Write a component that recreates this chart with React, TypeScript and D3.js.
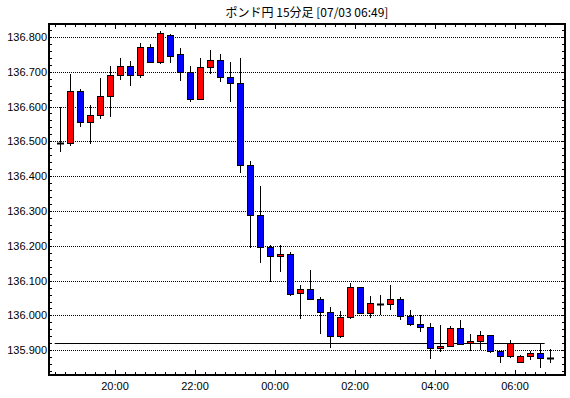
import React from "react";
import * as d3 from "d3";

const title = "ポンド円 15分足 [07/03 06:49]";
const startTime = new Date(2019, 6, 2, 18, 30);
const intervalMinutes = 15;

const openValues = [
  136.495, 136.495, 136.645, 136.555, 136.575, 136.630, 136.690, 136.717, 136.690, 136.771,
  136.727, 136.806, 136.750, 136.700, 136.622, 136.714, 136.734, 136.685, 136.668, 136.432,
  136.288, 136.197, 136.170, 136.176, 136.064, 136.077, 136.047, 136.009, 135.940, 135.995,
  136.081, 136.006, 136.034, 136.032, 136.047, 135.998, 135.975, 135.966, 135.906, 135.911,
  135.963, 135.920, 135.926, 135.943, 135.897, 135.883, 135.866, 135.883, 135.891, 135.877,
];
const highValues = [
  136.600, 136.692, 136.650, 136.605, 136.682, 136.717, 136.738, 136.732, 136.783, 136.780,
  136.818, 136.809, 136.768, 136.717, 136.740, 136.763, 136.752, 136.728, 136.740, 136.443,
  136.373, 136.201, 136.203, 136.182, 136.087, 136.130, 136.053, 136.024, 136.014, 136.094,
  136.083, 136.056, 136.059, 136.088, 136.052, 136.015, 136.001, 135.978, 135.972, 135.969,
  135.987, 135.947, 135.955, 135.944, 135.898, 135.929, 135.886, 135.897, 135.917, 135.903,
];
const lowValues = [
  136.468, 136.488, 136.540, 136.493, 136.565, 136.570, 136.675, 136.658, 136.681, 136.724,
  136.722, 136.725, 136.673, 136.612, 136.618, 136.694, 136.671, 136.613, 136.409, 136.193,
  136.152, 136.097, 136.126, 136.057, 135.989, 136.045, 135.946, 135.906, 135.936, 135.991,
  136.005, 135.994, 136.001, 136.015, 135.986, 135.969, 135.952, 135.874, 135.894, 135.910,
  135.914, 135.897, 135.900, 135.891, 135.863, 135.877, 135.865, 135.871, 135.848, 135.863,
];
const closeValues = [
  136.495, 136.645, 136.555, 136.575, 136.630, 136.690, 136.717, 136.690, 136.771, 136.727,
  136.812, 136.745, 136.700, 136.622, 136.714, 136.734, 136.685, 136.668, 136.432, 136.288,
  136.196, 136.170, 136.176, 136.061, 136.077, 136.047, 136.010, 135.940, 135.995, 136.081,
  136.006, 136.035, 136.034, 136.047, 135.998, 135.975, 135.966, 135.906, 135.911, 135.963,
  135.917, 135.926, 135.943, 135.897, 135.883, 135.920, 135.883, 135.891, 135.877, 135.877,
];
const referencePrice = 135.92;
const yTickValues = [135.9, 136.0, 136.1, 136.2, 136.3, 136.4, 136.5, 136.6, 136.7, 136.8];

const W = 570;
const H = 398;
const L = 49, R = 565, T = 24, B = 375;

export default function App() {
  const n = openValues.length;
  const times = openValues.map((_, i) => d3.timeMinute.offset(startTime, i * intervalMinutes));
  const endTime = d3.timeMinute.offset(startTime, n * intervalMinutes);
  const x = d3.scaleTime().domain([startTime, endTime]).range([55, 555]);
  const y = d3.scaleLinear().domain([135.829, 136.837]).range([B, T]);
  const cx = (i: number) => x(d3.timeMinute.offset(times[i], intervalMinutes / 2));

  const minorX = d3.timeMinute.every(15)!.range(startTime, d3.timeMinute.offset(endTime, -1));
  const majorX = d3.timeHour.every(2)!.range(startTime, endTime);
  const minorY = d3.range(135.84, 136.83, 0.02);
  const fmtT = d3.timeFormat("%H:%M");
  const fmtY = d3.format(".3f");
  const font = "'Liberation Sans', Arial, sans-serif";

  return (
    <svg width={W} height={H} style={{ position: "absolute", left: 0, top: 0, background: "#fff" }}>
      <rect x={0} y={0} width={W} height={H} fill="#fff" />
      <text x={(L + R) / 2} y={17} textAnchor="middle" fontSize={12}
        fontFamily="'Noto Sans CJK JP', sans-serif" fill="#000">{title}</text>

      {yTickValues.map((v) => (
        <g key={"g" + v}>
          <line x1={L} x2={R} y1={Math.round(y(v)) + 0.5} y2={Math.round(y(v)) + 0.5}
            stroke="#000" strokeWidth={1} strokeDasharray="1,1" />
          <text x={L - 2} y={Math.round(y(v)) + 4} textAnchor="end" fontSize={11}
            fontFamily={font} fill="#000">{fmtY(v)}</text>
        </g>
      ))}
      {minorY.map((v, i) => (
        <g key={"my" + i}>
          <line x1={L} x2={L + 3} y1={Math.round(y(v)) + 0.5} y2={Math.round(y(v)) + 0.5} stroke="#000" />
          <line x1={R - 3} x2={R} y1={Math.round(y(v)) + 0.5} y2={Math.round(y(v)) + 0.5} stroke="#000" />
        </g>
      ))}
      {minorX.map((t, i) => (
        <g key={"mx" + i}>
          <line x1={Math.round(x(t)) + 0.5} x2={Math.round(x(t)) + 0.5} y1={T} y2={T + 3} stroke="#000" />
          <line x1={Math.round(x(t)) + 0.5} x2={Math.round(x(t)) + 0.5} y1={B - 3} y2={B} stroke="#000" />
        </g>
      ))}
      {majorX.map((t, i) => (
        <g key={"Mx" + i}>
          <line x1={Math.round(x(t)) + 0.5} x2={Math.round(x(t)) + 0.5} y1={T} y2={T + 5} stroke="#000" />
          <line x1={Math.round(x(t)) + 0.5} x2={Math.round(x(t)) + 0.5} y1={B - 5} y2={B} stroke="#000" />
          <text x={x(t)} y={390} textAnchor="middle" fontSize={11} fontFamily={font} fill="#000">{fmtT(t)}</text>
        </g>
      ))}

      <line x1={cx(0) - 5} x2={cx(n - 2) + 5} y1={Math.round(y(referencePrice)) + 0.5}
        y2={Math.round(y(referencePrice)) + 0.5} stroke="#000" strokeWidth={1} />

      {openValues.map((o, i) => {
        const c = closeValues[i];
        const h = highValues[i];
        const l = lowValues[i];
        const px = Math.round(cx(i));
        const top = Math.round(y(Math.max(o, c)));
        const bot = Math.round(y(Math.min(o, c)));
        const doji = Math.abs(o - c) < 0.0005;
        const color = c > o ? "#ff0000" : "#0000ff";
        return (
          <g key={"c" + i}>
            <line x1={px + 0.5} x2={px + 0.5} y1={Math.round(y(h))} y2={Math.round(y(l))} stroke="#000" strokeWidth={1} />
            {doji ? (
              <line x1={px - 3} x2={px + 4} y1={top + 0.5} y2={top + 0.5} stroke="#000" strokeWidth={2} />
            ) : (
              <rect x={px - 2.5} y={top + 0.5} width={6} height={Math.max(1, bot - top)}
                fill={color} stroke="#000" strokeWidth={1} />
            )}
          </g>
        );
      })}

      <rect x={L} y={T} width={R - L} height={B - T} fill="none" stroke="#000" strokeWidth={2} />
    </svg>
  );
}
